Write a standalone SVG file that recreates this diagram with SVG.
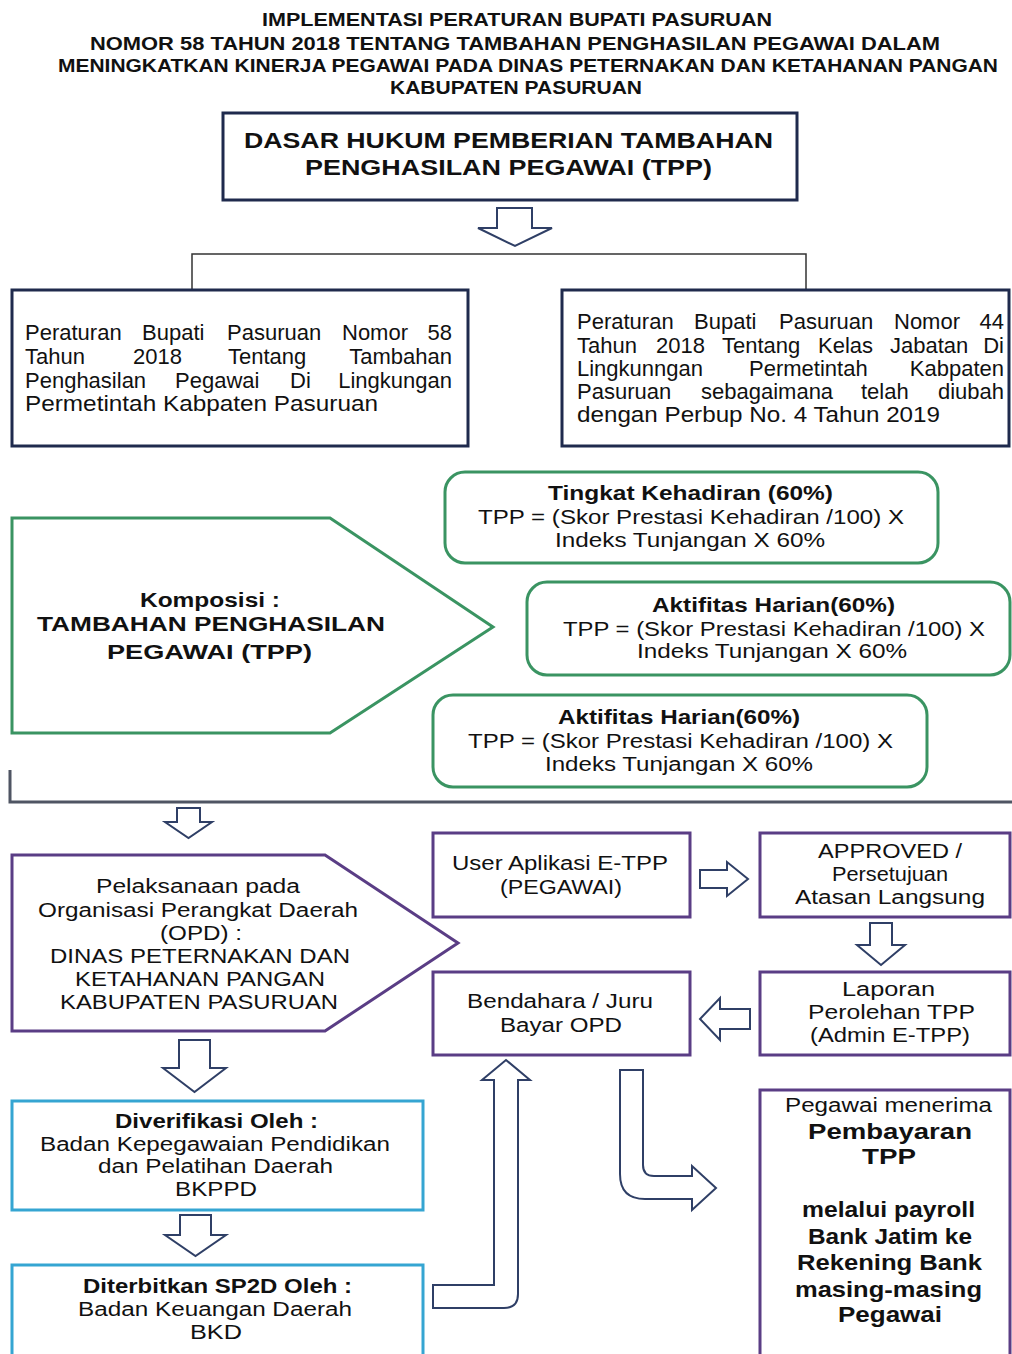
<svg xmlns="http://www.w3.org/2000/svg" width="1012" height="1354" viewBox="0 0 1012 1354">
<style>
text{font-family:"Liberation Sans",Arial,sans-serif;fill:#111;}
.b{font-weight:bold;}
.t{font-size:18px;font-weight:bold;}
.h{font-size:22px;font-weight:bold;}
.n{font-size:22px;}
.g{font-size:20px;}
.p{font-size:20px;}
.navy{fill:#fff;stroke:#1f2a4d;stroke-width:3;}
.green{fill:#fff;stroke:#3a9462;stroke-width:3;}
.purple{fill:#fff;stroke:#5a3d85;stroke-width:3;}
.cyan{fill:#fff;stroke:#35a5d2;stroke-width:3;}
.arr{fill:#fff;stroke:#2f3f66;stroke-width:2;stroke-linejoin:miter;}
.line{fill:none;stroke:#333;stroke-width:1.5;}
.line2{fill:none;stroke:#4f5563;stroke-width:3;}
</style>
<rect width="1012" height="1354" fill="#fff"/>
<g id="title">
<text class="t" x="262" y="26" textLength="510" lengthAdjust="spacingAndGlyphs">IMPLEMENTASI PERATURAN BUPATI PASURUAN</text>
<text class="t" x="90" y="50" textLength="850" lengthAdjust="spacingAndGlyphs">NOMOR 58 TAHUN 2018 TENTANG  TAMBAHAN PENGHASILAN PEGAWAI DALAM</text>
<text class="t" x="58" y="72" textLength="940" lengthAdjust="spacingAndGlyphs">MENINGKATKAN KINERJA PEGAWAI PADA DINAS PETERNAKAN DAN KETAHANAN PANGAN</text>
<text class="t" x="390" y="94" textLength="252" lengthAdjust="spacingAndGlyphs">KABUPATEN PASURUAN</text>
</g>
<g id="connectors">
<path class="line" d="M192,290 V254 H806 V290"/>
<path class="line2" d="M10,770 V802 H1012"/>
<path class="arr" d="M497,208 H532 V228 H552 L515,246 L478,228 H497 Z"/>
<path class="arr" d="M177,808 H200 V822 H212 L188.5,838 L165,822 H177 Z"/>
<path class="arr" d="M179,1040 H210 V1068 H226 L194.5,1092 L163,1068 H179 Z"/>
<path class="arr" d="M180,1215 H211 V1235 H226 L195.5,1256 L165,1235 H180 Z"/>
<path class="arr" d="M700,870 H727 V862 L748,879 L727,896 V888 H700 Z"/>
<path class="arr" d="M870,923 H892 V945 H905 L881,965 L857,945 H870 Z"/>
<path class="arr" d="M750,1009 V1029 H720 V1040 L700,1019 L720,998 V1009 Z"/>
<path class="arr" d="M433,1285 H494 V1080 H482 L506,1060 L530,1080 H518 V1294 Q518,1308 504,1308 H433 Z"/>
<path class="arr" d="M620,1070 H643 V1165 Q643,1176 654,1176 H692 V1166 L716,1188 L692,1210 V1199 H645 Q620,1199 620,1174 Z"/>
</g>
<g id="dasar-hukum">
<rect class="navy" x="223" y="113" width="574" height="87"/>
<text class="h" x="244" y="148" textLength="529" lengthAdjust="spacingAndGlyphs">DASAR HUKUM  PEMBERIAN TAMBAHAN</text>
<text class="h" x="305" y="175" textLength="407" lengthAdjust="spacingAndGlyphs">PENGHASILAN PEGAWAI (TPP)</text>
</g>
<g id="perbup-58">
<rect class="navy" x="12" y="290" width="456" height="156"/>
<text class="n" y="340"><tspan x="25">Peraturan</tspan><tspan x="142">Bupati</tspan><tspan x="227">Pasuruan</tspan><tspan x="342">Nomor</tspan></text>
<text class="n" x="452" y="340" text-anchor="end">58</text>
<text class="n" y="364"><tspan x="25">Tahun</tspan><tspan x="133">2018</tspan><tspan x="228">Tentang</tspan></text>
<text class="n" x="452" y="364" text-anchor="end">Tambahan</text>
<text class="n" y="388"><tspan x="25">Penghasilan</tspan><tspan x="175">Pegawai</tspan><tspan x="290">Di</tspan></text>
<text class="n" x="452" y="388" text-anchor="end">Lingkungan</text>
<text class="n" x="25" y="411" textLength="353" lengthAdjust="spacingAndGlyphs">Permetintah Kabpaten Pasuruan</text>
</g>
<g id="perbup-44">
<rect class="navy" x="562" y="290" width="447" height="156"/>
<text class="n" y="329"><tspan x="577">Peraturan</tspan><tspan x="694">Bupati</tspan><tspan x="779">Pasuruan</tspan><tspan x="894">Nomor</tspan></text>
<text class="n" x="1004" y="329" text-anchor="end">44</text>
<text class="n" y="353"><tspan x="577">Tahun</tspan><tspan x="656">2018</tspan><tspan x="722">Tentang</tspan><tspan x="818">Kelas</tspan><tspan x="890">Jabatan</tspan></text>
<text class="n" x="1004" y="353" text-anchor="end">Di</text>
<text class="n" y="376"><tspan x="577">Lingkunngan</tspan><tspan x="749">Permetintah</tspan></text>
<text class="n" x="1004" y="376" text-anchor="end">Kabpaten</text>
<text class="n" y="399"><tspan x="577">Pasuruan</tspan><tspan x="701">sebagaimana</tspan><tspan x="861">telah</tspan></text>
<text class="n" x="1004" y="399" text-anchor="end">diubah</text>
<text class="n" x="577" y="422" textLength="363" lengthAdjust="spacingAndGlyphs">dengan Perbup No. 4 Tahun 2019</text>
</g>
<g id="komposisi">
<polygon class="green" points="12,518 330,518 493,627 330,733 12,733"/>
<text class="g b" x="140" y="607" textLength="140" lengthAdjust="spacingAndGlyphs">Komposisi :</text>
<text class="g b" x="37" y="631" textLength="348" lengthAdjust="spacingAndGlyphs">TAMBAHAN PENGHASILAN</text>
<text class="g b" x="107" y="659" textLength="205" lengthAdjust="spacingAndGlyphs">PEGAWAI (TPP)</text>
</g>
<g id="kehadiran">
<rect class="green" x="445" y="472" width="493" height="91" rx="20"/>
<text class="g b" x="548" y="500" textLength="285" lengthAdjust="spacingAndGlyphs">Tingkat Kehadiran (60%)</text>
<text class="g" x="478" y="524" textLength="426" lengthAdjust="spacingAndGlyphs">TPP = (Skor Prestasi Kehadiran /100) X</text>
<text class="g" x="555" y="547" textLength="270" lengthAdjust="spacingAndGlyphs">Indeks Tunjangan X 60%</text>
</g>
<g id="aktifitas-1">
<rect class="green" x="527" y="582" width="483" height="93" rx="20"/>
<text class="g b" x="652" y="612" textLength="243" lengthAdjust="spacingAndGlyphs">Aktifitas Harian(60%)</text>
<text class="g" x="563" y="636" textLength="422" lengthAdjust="spacingAndGlyphs">TPP = (Skor Prestasi Kehadiran /100) X</text>
<text class="g" x="637" y="658" textLength="270" lengthAdjust="spacingAndGlyphs">Indeks Tunjangan X 60%</text>
</g>
<g id="aktifitas-2">
<rect class="green" x="433" y="695" width="494" height="92" rx="20"/>
<text class="g b" x="558" y="724" textLength="242" lengthAdjust="spacingAndGlyphs">Aktifitas Harian(60%)</text>
<text class="g" x="468" y="748" textLength="425" lengthAdjust="spacingAndGlyphs">TPP = (Skor Prestasi Kehadiran /100) X</text>
<text class="g" x="545" y="771" textLength="268" lengthAdjust="spacingAndGlyphs">Indeks Tunjangan X 60%</text>
</g>
<g id="pelaksanaan">
<polygon class="purple" points="12,855 325,855 458,943 325,1031 12,1031"/>
<text class="p" x="96" y="893" textLength="204" lengthAdjust="spacingAndGlyphs">Pelaksanaan pada</text>
<text class="p" x="38" y="917" textLength="320" lengthAdjust="spacingAndGlyphs">Organisasi Perangkat Daerah</text>
<text class="p" x="160" y="940" textLength="82" lengthAdjust="spacingAndGlyphs">(OPD) :</text>
<text class="p" x="50" y="963" textLength="300" lengthAdjust="spacingAndGlyphs">DINAS PETERNAKAN DAN</text>
<text class="p" x="75" y="986" textLength="250" lengthAdjust="spacingAndGlyphs">KETAHANAN PANGAN</text>
<text class="p" x="60" y="1009" textLength="278" lengthAdjust="spacingAndGlyphs">KABUPATEN PASURUAN</text>
</g>
<g id="user-etpp">
<rect class="purple" x="433" y="833" width="257" height="84"/>
<text class="p" x="452" y="870" textLength="216" lengthAdjust="spacingAndGlyphs">User Aplikasi E-TPP</text>
<text class="p" x="500" y="894" textLength="122" lengthAdjust="spacingAndGlyphs">(PEGAWAI)</text>
</g>
<g id="approved">
<rect class="purple" x="760" y="833" width="250" height="84"/>
<text class="p" x="818" y="858" textLength="144" lengthAdjust="spacingAndGlyphs">APPROVED /</text>
<text class="p" x="832" y="881" textLength="116" lengthAdjust="spacingAndGlyphs">Persetujuan</text>
<text class="p" x="795" y="904" textLength="190" lengthAdjust="spacingAndGlyphs">Atasan Langsung</text>
</g>
<g id="laporan">
<rect class="purple" x="760" y="972" width="250" height="83"/>
<text class="p" x="842" y="996" textLength="93" lengthAdjust="spacingAndGlyphs">Laporan</text>
<text class="p" x="808" y="1019" textLength="167" lengthAdjust="spacingAndGlyphs">Perolehan TPP</text>
<text class="p" x="810" y="1042" textLength="160" lengthAdjust="spacingAndGlyphs">(Admin E-TPP)</text>
</g>
<g id="bendahara">
<rect class="purple" x="433" y="972" width="257" height="83"/>
<text class="p" x="467" y="1008" textLength="186" lengthAdjust="spacingAndGlyphs">Bendahara / Juru</text>
<text class="p" x="500" y="1032" textLength="122" lengthAdjust="spacingAndGlyphs">Bayar OPD</text>
</g>
<g id="diverifikasi">
<rect class="cyan" x="12" y="1101" width="411" height="109"/>
<text class="p b" x="115" y="1128" textLength="203" lengthAdjust="spacingAndGlyphs">Diverifikasi Oleh :</text>
<text class="p" x="40" y="1151" textLength="350" lengthAdjust="spacingAndGlyphs">Badan Kepegawaian Pendidikan</text>
<text class="p" x="98" y="1173" textLength="235" lengthAdjust="spacingAndGlyphs">dan Pelatihan Daerah</text>
<text class="p" x="175" y="1196" textLength="82" lengthAdjust="spacingAndGlyphs">BKPPD</text>
</g>
<g id="sp2d">
<rect class="cyan" x="12" y="1265" width="411" height="100"/>
<text class="p b" x="83" y="1293" textLength="269" lengthAdjust="spacingAndGlyphs">Diterbitkan SP2D Oleh :</text>
<text class="p" x="78" y="1316" textLength="274" lengthAdjust="spacingAndGlyphs">Badan Keuangan Daerah</text>
<text class="p" x="190" y="1339" textLength="52" lengthAdjust="spacingAndGlyphs">BKD</text>
</g>
<g id="pembayaran">
<rect class="purple" x="760" y="1090" width="250" height="275"/>
<text class="p" x="785" y="1112" textLength="207" lengthAdjust="spacingAndGlyphs">Pegawai menerima</text>
<text class="b" font-size="22" x="808" y="1139" textLength="164" lengthAdjust="spacingAndGlyphs">Pembayaran</text>
<text class="b" font-size="22" x="862" y="1164" textLength="54" lengthAdjust="spacingAndGlyphs">TPP</text>
<text class="b" font-size="22" x="802" y="1217" textLength="173" lengthAdjust="spacingAndGlyphs">melalui payroll</text>
<text class="b" font-size="22" x="808" y="1244" textLength="164" lengthAdjust="spacingAndGlyphs">Bank Jatim ke</text>
<text class="b" font-size="22" x="797" y="1270" textLength="185" lengthAdjust="spacingAndGlyphs">Rekening Bank</text>
<text class="b" font-size="22" x="795" y="1297" textLength="187" lengthAdjust="spacingAndGlyphs">masing-masing</text>
<text class="b" font-size="22" x="838" y="1322" textLength="104" lengthAdjust="spacingAndGlyphs">Pegawai</text>
</g>
</svg>
